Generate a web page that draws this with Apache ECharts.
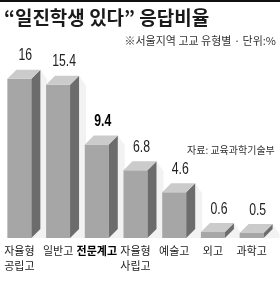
<!DOCTYPE html>
<html>
<head>
<meta charset="utf-8">
<script src="https://cdn.jsdelivr.net/npm/echarts@6/dist/echarts.min.js"></script>
<style>
    html, body { margin: 0; padding: 0; background: #fff; }
    #chart { width: 280px; height: 284px; }
</style>
</head>
<body>
<div id="chart"></div>
<script>
// 고교 유형
var categories = ['자율형\n공립고', '일반고', '전문계고', '자율형\n사립고', '예술고', '외고', '과학고'];
// 응답비율(%)
var values = [16, 15.4, 9.4, 6.8, 4.6, 0.6, 0.5];
// 강조할 항목
var highlightIndex = 2;

var KR = '"Noto Sans CJK KR", "Noto Sans", sans-serif';
var NUM = '"Liberation Sans", Arial, sans-serif';

var myChart = echarts.init(document.getElementById('chart'));

var seriesData = [];
for (var i = 0; i < values.length; i++) {
    seriesData.push([i, values[i]]);
}

// 입체 막대 그리기
function renderBar(params, api) {
    var idx = api.value(0);
    var v = api.value(1);
    var p = api.coord([idx, v]);
    var base = api.coord([idx, 0]);
    var w = 24, d = 9;
    var xl = p[0] - w / 2, xr = p[0] + w / 2, yt = p[1], y0 = base[1];
    var bold = idx === highlightIndex;
    return {
        type: 'group',
        children: [
            {
                type: 'polygon',
                shape: { points: [[xr + d, yt - d], [xr + d + 7, yt - d + 10], [xr + d + 7, y0], [xr, y0]] },
                style: { fill: 'rgba(0,0,0,0.05)' }
            },
            {
                type: 'rect',
                shape: { x: xl, y: yt, width: w, height: y0 - yt },
                style: { fill: '#a6a6a6' }
            },
            {
                type: 'polygon',
                shape: { points: [[xr, yt], [xr + d, yt - d], [xr + d, y0 - d], [xr, y0]] },
                style: { fill: '#6c6c6c' }
            },
            {
                type: 'polygon',
                shape: { points: [[xl, yt], [xl + d, yt - d], [xr + d, yt - d], [xr, yt]] },
                style: { fill: '#cbcbcb' }
            },
            {
                type: 'text',
                x: p[0] + 6,
                y: yt - 23,
                scaleX: 0.72,
                style: {
                    text: String(v),
                    font: (bold ? 'bold ' : '') + '17px ' + NUM,
                    fill: bold ? '#000' : '#222',
                    align: 'center',
                    verticalAlign: 'middle'
                }
            }
        ]
    };
}

var option = {
    animation: false,
    grid: { left: 0, right: 9, top: 39, bottom: 46 },
    xAxis: {
        type: 'category',
        data: categories,
        axisLine: { show: false },
        axisTick: { show: false },
        axisLabel: {
            margin: 5,
            interval: 0,
            formatter: function (val, index) {
                if (index === highlightIndex) return '{b|' + val + '}';
                return '{n|' + val.split('\n').join('}\n{n|') + '}';
            },
            rich: {
                n: { fontSize: 11, lineHeight: 15, color: '#222', fontFamily: KR },
                b: { fontSize: 11, lineHeight: 15, color: '#000', fontFamily: KR, fontWeight: 'bold' }
            }
        }
    },
    yAxis: {
        type: 'value',
        min: 0,
        max: 20,
        show: false,
        splitLine: { show: false }
    },
    series: [
        {
            type: 'custom',
            renderItem: renderBar,
            data: seriesData,
            encode: { x: 0, y: 1 }
        }
    ],
    graphic: [
        { type: 'rect', shape: { x: 0, y: 0, width: 280, height: 2 }, style: { fill: '#111' } },
        {
            type: 'text', x: 4, y: 18,
            style: { text: '“일진학생 있다” 응답비율', font: 'bold 19px ' + KR, fill: '#1a1a1a', verticalAlign: 'middle' }
        },
        {
            type: 'text', x: 276, y: 41,
            style: { text: '※서울지역 고교 유형별 · 단위:%', font: '11px ' + KR, fill: '#333', align: 'right', verticalAlign: 'middle' }
        },
        {
            type: 'text', x: 187, y: 150,
            style: { text: '자료: 교육과학기술부', font: '10px ' + KR, fill: '#333', verticalAlign: 'middle' }
        }
    ]
};
myChart.setOption(option);
</script>
</body>
</html>
